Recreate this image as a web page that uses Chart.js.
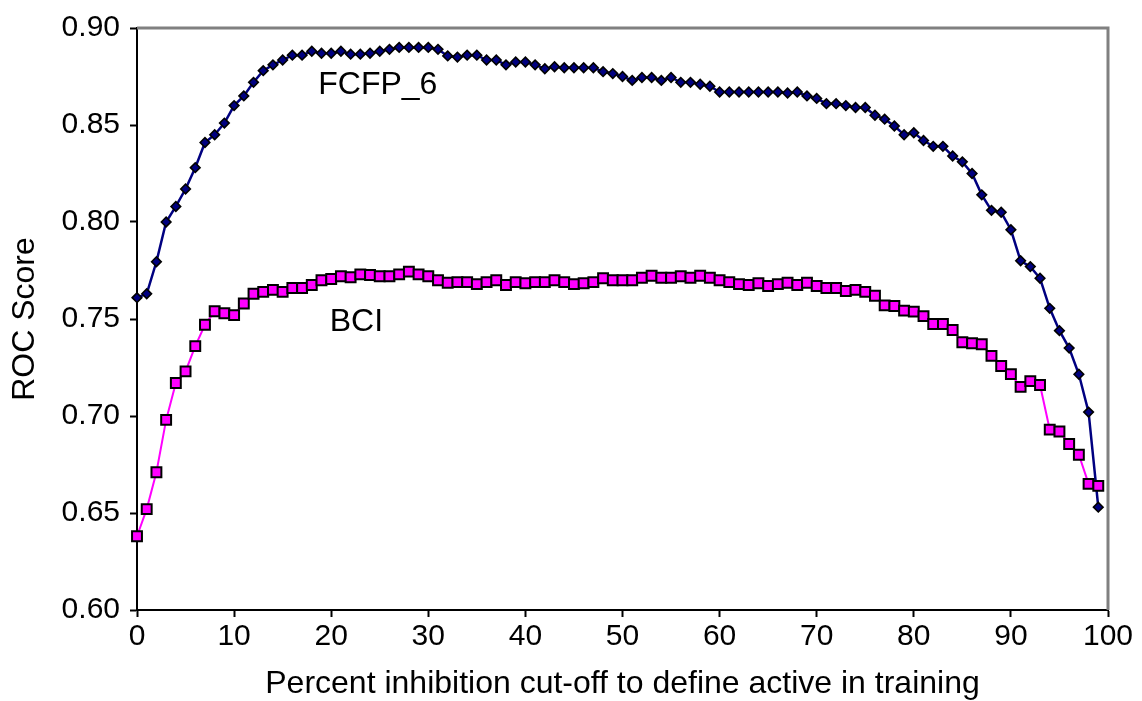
<!DOCTYPE html>
<html>
<head>
<meta charset="utf-8">
<script src="https://cdn.jsdelivr.net/npm/chart.js@4"></script>
<style>
  html, body { margin: 0; padding: 0; background: #fff; }
  #wrap { width: 1142px; height: 701px; }
</style>
</head>
<body>
<div id="wrap"><canvas id="roc"></canvas></div>
<script>
// cut-off values, 0..99
const cutoffs = Array.from({ length: 100 }, (_, i) => i);

const fcfp6 = [
  0.761, 0.763, 0.7795, 0.800, 0.808, 0.817, 0.828, 0.841, 0.845, 0.851,
  0.860, 0.865, 0.872, 0.878, 0.881, 0.8835, 0.886, 0.886, 0.888, 0.887,
  0.887, 0.888, 0.8865, 0.8865, 0.887, 0.888, 0.889, 0.890, 0.890, 0.890,
  0.890, 0.889, 0.8856, 0.885, 0.886, 0.886, 0.8835, 0.8835, 0.881, 0.8825,
  0.8825, 0.881, 0.879, 0.880, 0.8795, 0.8795, 0.8795, 0.8795, 0.8775, 0.8765,
  0.875, 0.873, 0.8745, 0.8745, 0.873, 0.8745, 0.872, 0.872, 0.871, 0.870,
  0.867, 0.867, 0.867, 0.867, 0.867, 0.867, 0.867, 0.8665, 0.867, 0.865,
  0.8637, 0.861, 0.861, 0.860, 0.859, 0.859, 0.855, 0.853, 0.8495, 0.845,
  0.846, 0.842, 0.839, 0.839, 0.834, 0.831, 0.825, 0.814, 0.806, 0.805,
  0.796, 0.780, 0.777, 0.771, 0.7555, 0.744, 0.735, 0.7215, 0.702, 0.653
];

const bci = [
  0.638, 0.652, 0.671, 0.698, 0.717, 0.723, 0.736, 0.747, 0.754, 0.753,
  0.752, 0.758, 0.763, 0.764, 0.765, 0.764, 0.766, 0.766, 0.7675, 0.770,
  0.7706, 0.772, 0.7715, 0.773, 0.7727, 0.772, 0.772, 0.773, 0.7744, 0.773,
  0.772, 0.770, 0.7687, 0.769, 0.769, 0.768, 0.769, 0.770, 0.7675, 0.769,
  0.7684, 0.769, 0.769, 0.770, 0.769, 0.768, 0.7684, 0.769, 0.771, 0.770,
  0.770, 0.770, 0.7713, 0.7723, 0.7713, 0.7713, 0.772, 0.7713, 0.7723, 0.7713,
  0.770, 0.769, 0.768, 0.7675, 0.7684, 0.767, 0.768, 0.7687, 0.7675, 0.7687,
  0.767, 0.766, 0.766, 0.7644, 0.765, 0.764, 0.762, 0.757, 0.7567, 0.7543,
  0.7538, 0.7515, 0.7474, 0.7474, 0.7443, 0.738, 0.7375, 0.737, 0.731, 0.7258,
  0.7216, 0.715, 0.718, 0.716, 0.693, 0.692, 0.6856, 0.680, 0.665, 0.664
];

const xTicks = [0, 10, 20, 30, 40, 50, 60, 70, 80, 90, 100];
const yTicks = ["0.60", "0.65", "0.70", "0.75", "0.80", "0.85", "0.90"];

// in-plot series labels, in data coordinates
const seriesLabels = [
  { text: "FCFP_6", x: 24.8, y: 0.8705 },
  { text: "BCI", x: 22.6, y: 0.7485 }
];

const FONT = "'Liberation Sans', Arial, sans-serif";

const frame = {
  id: "frame",
  afterDatasetsDraw(chart) {
    const { ctx, chartArea: a } = chart;
    ctx.save();
    ctx.strokeStyle = "#808080";
    ctx.lineWidth = 3;
    ctx.beginPath();
    ctx.moveTo(a.left, a.top);
    ctx.lineTo(a.right, a.top);
    ctx.lineTo(a.right, a.bottom);
    ctx.stroke();

    ctx.fillStyle = "#000";
    ctx.font = "32px " + FONT;
    ctx.textAlign = "center";
    ctx.textBaseline = "middle";
    seriesLabels.forEach(l => {
      ctx.fillText(l.text, chart.scales.x.getPixelForValue(l.x), chart.scales.y.getPixelForValue(l.y));
    });
    ctx.restore();
  }
};

new Chart(document.getElementById("roc"), {
  type: "line",
  data: {
    labels: cutoffs,
    datasets: [
      {
        label: "BCI",
        data: cutoffs.map((c, i) => ({ x: c, y: bci[i] })),
        borderColor: "#ff00ff",
        borderWidth: 2,
        pointStyle: "rect",
        pointRadius: 7,
        pointBackgroundColor: "#ff00ff",
        pointBorderColor: "#000",
        pointBorderWidth: 2,
        tension: 0,
        clip: false
      },
      {
        label: "FCFP_6",
        data: cutoffs.map((c, i) => ({ x: c, y: fcfp6[i] })),
        borderColor: "#000080",
        borderWidth: 2.5,
        pointStyle: "rectRot",
        pointRadius: 4.8,
        pointBackgroundColor: "#000080",
        pointBorderColor: "#000",
        pointBorderWidth: 1.6,
        tension: 0,
        clip: false
      }
    ]
  },
  options: {
    responsive: true,
    maintainAspectRatio: false,
    animation: false,
    layout: { padding: { top: 28, right: 34, left: 0, bottom: 0 } },
    plugins: { legend: { display: false }, tooltip: { enabled: false } },
    scales: {
      x: {
        type: "linear",
        min: 0,
        max: 100,
        afterBuildTicks: s => { s.ticks = xTicks.map(v => ({ value: v })); },
        afterFit: s => { s.height = 91; },
        ticks: { color: "#000", font: { size: 30, family: FONT }, padding: 2, maxRotation: 0 },
        grid: { drawOnChartArea: false, tickLength: 7, tickColor: "#000", tickWidth: 2 },
        border: { color: "#000", width: 2 },
        title: {
          display: true,
          text: "Percent inhibition cut-off to define active in training",
          color: "#000",
          font: { size: 32, family: FONT, lineHeight: 1 },
          padding: { top: 0, bottom: 1 }
        }
      },
      y: {
        type: "linear",
        min: 0.6,
        max: 0.9,
        afterBuildTicks: s => { s.ticks = yTicks.map(t => ({ value: parseFloat(t) })); },
        afterFit: s => { s.width = 137; },
        ticks: {
          color: "#000",
          font: { size: 30, family: FONT },
          padding: 10,
          callback: v => yTicks.find(t => parseFloat(t) === v)
        },
        grid: { drawOnChartArea: false, tickLength: 7, tickColor: "#000", tickWidth: 2 },
        border: { color: "#000", width: 2 },
        title: {
          display: true,
          text: "ROC Score",
          color: "#000",
          font: { size: 32, family: FONT, lineHeight: 1 },
          padding: { top: 9, bottom: 0 }
        }
      }
    }
  },
  plugins: [frame]
});
</script>
</body>
</html>
